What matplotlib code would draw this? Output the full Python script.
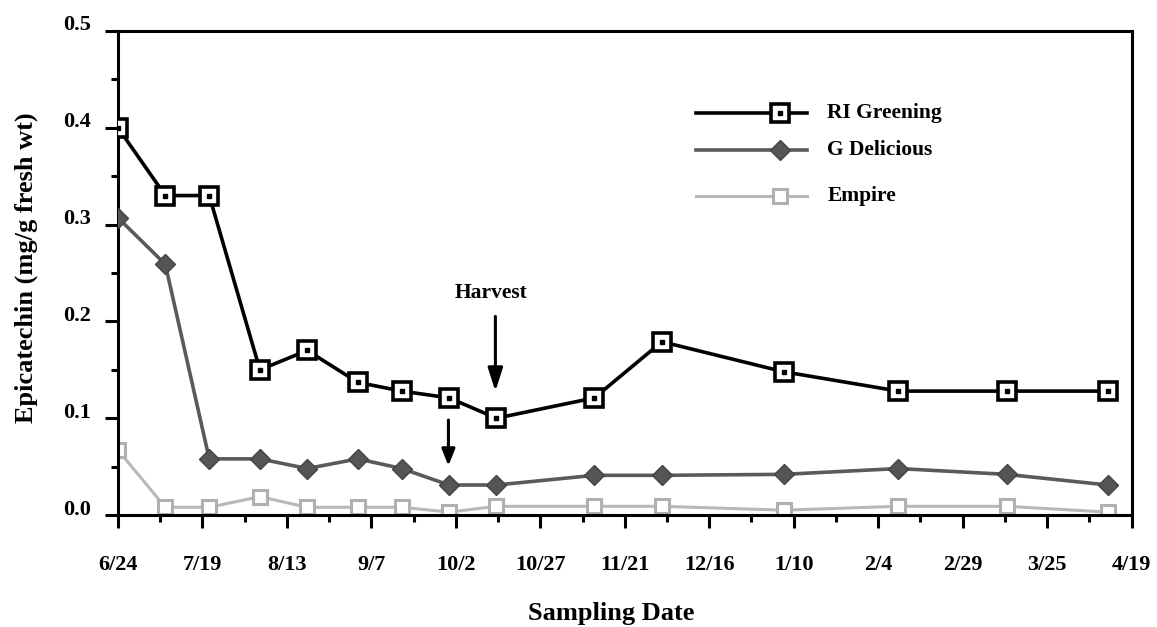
import numpy as np
import matplotlib
matplotlib.use("Agg")
import matplotlib.pyplot as plt
import matplotlib.transforms as mtransforms

# sampling days counted from 6/24
days = [0, 14, 27, 42, 56, 71, 84, 98, 112, 141, 161, 197, 231, 263, 293]
ri_greening = [0.40, 0.33, 0.33, 0.15, 0.17, 0.137, 0.128, 0.121, 0.100, 0.121, 0.179, 0.148, 0.128, 0.128, 0.128]
g_delicious = [0.307, 0.259, 0.058, 0.058, 0.048, 0.058, 0.048, 0.031, 0.031, 0.041, 0.041, 0.042, 0.048, 0.042, 0.031]
empire = [0.067, 0.008, 0.008, 0.019, 0.008, 0.008, 0.008, 0.003, 0.009, 0.009, 0.009, 0.005, 0.009, 0.009, 0.003]

tick_days = list(range(0, 301, 25))
tick_labels = ["6/24", "7/19", "8/13", "9/7", "10/2", "10/27", "11/21", "12/16",
               "1/10", "2/4", "2/29", "3/25", "4/19"]

plt.rcParams['font.family'] = ['Liberation Serif', 'DejaVu Serif']
plt.rcParams['font.weight'] = 'bold'

fig = plt.figure(figsize=(11.57, 6.27), dpi=100)
ax = fig.add_axes([0.102, 0.1786, 0.876, 0.772])

ax.plot(days, empire, color='#b8b8b8', lw=2.2, marker='s', ms=10,
        mfc='white', mec='#b0b0b0', mew=2.2, label='Empire', zorder=2)
ax.plot(days, g_delicious, color='#5a5a5a', lw=2.6, marker='D', ms=10,
        mfc='#555555', mec='#444444', mew=1, label='G Delicious', zorder=3)
ax.plot(days, ri_greening, color='black', lw=2.6, marker='s', ms=13,
        mfc='white', mec='black', mew=2.6, label='RI Greening', zorder=4)
ax.plot(days, ri_greening, ls='none', marker='s', ms=3, color='black', zorder=5)

# legend drawn by hand to mimic the original layout
leg_x = [171, 204]
leg_rows = [("RI Greening", 0.415), ("G Delicious", 0.377), ("Empire", 0.330)]
ax.plot(leg_x, [0.415, 0.415], color='black', lw=2.6)
ax.plot([196], [0.415], marker='s', ms=13, mfc='white', mec='black', mew=2.6)
ax.plot([196], [0.415], marker='s', ms=3, color='black')
ax.plot(leg_x, [0.377, 0.377], color='#5a5a5a', lw=2.6)
ax.plot([196], [0.377], marker='D', ms=10, mfc='#555555', mec='#444444', mew=1)
ax.plot(leg_x, [0.330, 0.330], color='#b8b8b8', lw=2.2)
ax.plot([196], [0.330], marker='s', ms=10, mfc='white', mec='#b0b0b0', mew=2.2)
for name, yv in leg_rows:
    ax.text(210, yv, name, fontsize=15.5, fontweight='bold', va='center', ha='left')

# harvest arrows
ax.annotate("", xy=(111.7, 0.125), xytext=(111.7, 0.208),
            arrowprops=dict(arrowstyle='-|>,head_length=1.4,head_width=0.45', color='black', lw=2.2))
ax.annotate("", xy=(97.8, 0.048), xytext=(97.8, 0.101),
            arrowprops=dict(arrowstyle='-|>,head_length=1.0,head_width=0.4', color='black', lw=2.2))
ax.text(110.5, 0.229, "Harvest", fontsize=15.5, fontweight='bold', ha='center', va='center')

ax.set_xlim(0, 300)
ax.set_ylim(0, 0.5)
ax.set_xticks(tick_days)
ax.set_xticklabels(tick_labels)
ax.set_xticks(np.arange(12.5, 300, 25), minor=True)
ax.set_yticks([0.0, 0.1, 0.2, 0.3, 0.4, 0.5])
ax.set_yticklabels(["0.0", "0.1", "0.2", "0.3", "0.4", "0.5"])
ax.set_yticks(np.arange(0.05, 0.5, 0.1), minor=True)

ax.tick_params(axis='both', which='major', direction='out', length=9.5, width=2.2, labelsize=16)
ax.tick_params(axis='both', which='minor', direction='out', length=5, width=2.2)
ax.tick_params(axis='x', which='major', pad=19)
ax.tick_params(axis='y', which='major', pad=10)
shift_up = mtransforms.ScaledTranslation(0, 0.08, fig.dpi_scale_trans)
for lbl in ax.get_yticklabels():
    lbl.set_transform(lbl.get_transform() + shift_up)
for lbl in ax.get_xticklabels() + ax.get_yticklabels():
    lbl.set_fontweight('bold')
for sp in ax.spines.values():
    sp.set_linewidth(2.2)

ax.set_xlabel("Sampling Date", fontsize=19, fontweight='bold', va='baseline')
ax.xaxis.set_label_coords(0.487, -0.216)
ax.set_ylabel("Epicatechin (mg/g fresh wt)", fontsize=19, fontweight='bold')
ax.yaxis.set_label_coords(-0.079, 0.51)

fig.savefig("out.png", dpi=100)
